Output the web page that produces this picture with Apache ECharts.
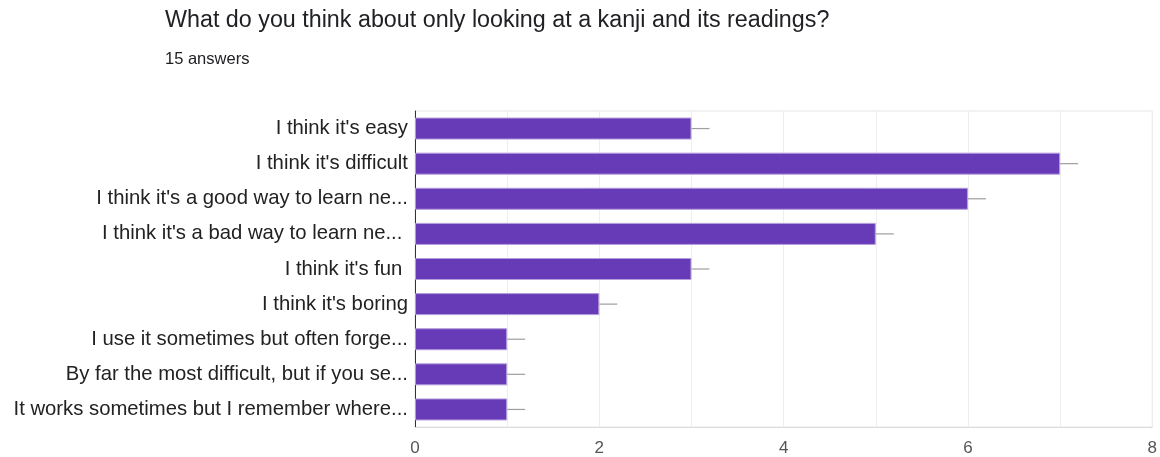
<!DOCTYPE html>
<html>
<head>
<meta charset="utf-8">
<script src="https://cdn.jsdelivr.net/npm/echarts@6/dist/echarts.min.js"></script>
<style>
  html, body { margin: 0; padding: 0; background: #fff; }
  #chart { width: 1160px; height: 457px; }
</style>
</head>
<body>
<div id="chart"></div>
<script>
// Survey question and answer counts
const questionTitle = 'What do you think about only looking at a kanji and its readings?';
const answerCount = '15 answers';
const categories = [
  "I think it's easy",
  "I think it's difficult",
  "I think it's a good way to learn ne...",
  "I think it's a bad way to learn ne... ",
  "I think it's fun ",
  "I think it's boring",
  "I use it sometimes but often forge...",
  "By far the most difficult, but if you se...",
  "It works sometimes but I remember where..."
];
const counts = [3, 7, 6, 5, 3, 2, 1, 1, 1];
const axisTicks = [0, 2, 4, 6, 8];

const chart = echarts.init(document.getElementById('chart'), null, { renderer: 'canvas' });

const fontFamily = '"Liberation Sans", Arial, sans-serif';

chart.setOption({
  animation: false,
  backgroundColor: '#ffffff',
  title: [
    {
      text: questionTitle,
      left: 165, top: 9, padding: 0,
      textStyle: { fontFamily, fontSize: 23.3, fontWeight: 'normal', color: '#202124' }
    },
    {
      text: answerCount,
      left: 165, top: 51, padding: 0,
      textStyle: { fontFamily, fontSize: 16.5, fontWeight: 'normal', color: '#202124' }
    }
  ],
  grid: { left: 415, right: 6, top: 111, bottom: 30, show: true, borderColor: '#e6e6e6', borderWidth: 1 },
  xAxis: {
    type: 'value', min: 0, max: 8, interval: 1,
    axisLine: { show: true, lineStyle: { color: '#dcdcdc' } },
    axisTick: { show: false },
    splitLine: { show: true, lineStyle: { color: '#eeeeee' } },
    axisLabel: {
      fontFamily, fontSize: 17, color: '#555', margin: 13,
      formatter: v => axisTicks.indexOf(v) >= 0 ? String(v) : ''
    }
  },
  yAxis: {
    type: 'category', data: categories, inverse: true,
    axisLine: { show: true, lineStyle: { color: '#333', width: 1 } },
    axisTick: { show: false },
    axisLabel: { fontFamily, fontSize: 20.3, color: '#222', margin: 7 }
  },
  series: [
    {
      type: 'bar',
      data: counts,
      barWidth: 22,
      itemStyle: { color: '#673ab7', borderColor: '#b39ddb', borderWidth: 1 }
    },
    {
      // short grey stub drawn after each bar end
      type: 'custom',
      data: counts.map((v, i) => [v, i]),
      renderItem: (params, api) => {
        const p = api.coord([api.value(0), api.value(1)]);
        return {
          type: 'line',
          shape: { x1: p[0], y1: p[1], x2: p[0] + 18, y2: p[1] },
          style: { stroke: '#9e9e9e', lineWidth: 1.2 }
        };
      },
      silent: true
    }
  ]
});
</script>
</body>
</html>
